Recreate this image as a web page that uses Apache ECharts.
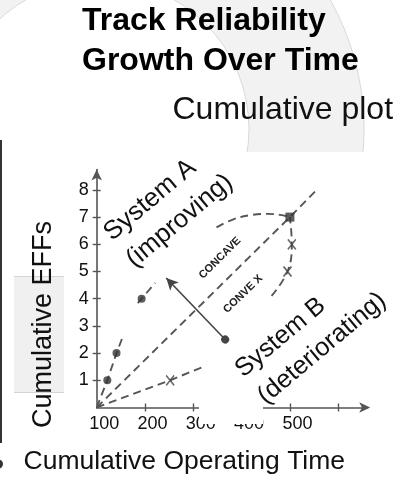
<!DOCTYPE html>
<html>
<head>
<meta charset="utf-8">
<script src="https://cdn.jsdelivr.net/npm/echarts@6/dist/echarts.min.js"></script>
<style>
  html, body { margin: 0; padding: 0; background: #fff; }
  #chart { width: 415px; height: 477px; }
</style>
</head>
<body>
<div id="chart"></div>
<script>
// Cumulative EFFs vs cumulative operating time, two system archetypes.
const xTickValues = [200, 300, 400, 500, 600];
const xLabelValues = [100, 200, 300, 400, 500];
const yTickValues = [1, 2, 3, 4, 5, 6, 7, 8];

// System A (improving): observed failures and its dashed concave trend
const sysAPoints = [[122, 1], [141, 2], [193, 4]];
const sysATrendLow = [[100, 0], [122, 1], [141, 2], [154, 2.6]];
const sysATrendMid = [[185, 3.84], [193, 4], [221, 4.58]];
const concaveArc = [[348, 6.62], [383, 6.92], [417, 7.07], [452, 7.12], [480, 7.08], [500, 7]];

// System B (deteriorating): observed failures and its dashed convex trend
const sysBPoints = [[252, 1], [495, 5], [504, 6]];
const sysBTrendLow = [[100, 0], [252, 1], [321, 1.5]];
const sysBTrendHigh = [[462, 4.1], [495, 5], [504, 6], [500, 7]];

// Point where both trends meet, and the constant-rate reference line
const meetPoint = [[500, 7]];
const constantRate = [[100, 0], [500, 7], [558, 8.05]];

// Arrow between the concave and convex regions
const arrowFrom = [366, 2.5];
const arrowTo = [244, 4.76];

const FONT = "'Liberation Sans', Arial, sans-serif";
const INK = '#555';
const DASH = [8, 5];

const chart = echarts.init(document.getElementById('chart'), null, { renderer: 'canvas' });

function dashed(data, smooth) {
  return {
    type: 'line', data: data, smooth: smooth || false, showSymbol: false,
    lineStyle: { color: INK, width: 1.9, type: DASH }, silent: true, z: 3
  };
}

const xBase = {
  type: 'value', min: 100, max: 660, interval: 100, splitLine: { show: false }
};
const yBase = {
  type: 'value', min: 0, max: 8.75, interval: 1, splitLine: { show: false }
};

chart.setOption({
  animation: false,
  backgroundColor: '#fff',
  grid: { left: 96.7, right: 47.8, top: 169.5, bottom: 69.5, containLabel: false },
  xAxis: [
    Object.assign({}, xBase, {
      position: 'bottom',
      axisLine: { show: true, symbol: ['none', 'arrow'], symbolSize: [8, 11],
        symbolOffset: [0, 3],
        lineStyle: { color: INK, width: 1.6 } },
      axisTick: { show: true, length: 4, customValues: xTickValues,
        lineStyle: { color: INK, width: 1.4 } },
      axisLabel: { show: true, customValues: xLabelValues, margin: 8,
        color: '#111', fontFamily: FONT, fontSize: 18, padding: [0, 0, 0, 15] }
    }),
    Object.assign({}, xBase, {
      position: 'bottom',
      axisLine: { show: false },
      axisTick: { show: true, inside: true, length: 4, customValues: xTickValues,
        lineStyle: { color: INK, width: 1.4 } },
      axisLabel: { show: false }
    })
  ],
  yAxis: [
    Object.assign({}, yBase, {
      position: 'left',
      axisLine: { show: true, symbol: ['none', 'arrow'], symbolSize: [8, 11],
        lineStyle: { color: INK, width: 1.6 } },
      axisTick: { show: true, length: 4, customValues: yTickValues,
        lineStyle: { color: INK, width: 1.4 } },
      axisLabel: { show: true, customValues: yTickValues, margin: 8,
        color: '#111', fontFamily: FONT, fontSize: 18 }
    }),
    Object.assign({}, yBase, {
      position: 'left',
      axisLine: { show: false },
      axisTick: { show: true, inside: true, length: 4, customValues: yTickValues,
        lineStyle: { color: INK, width: 1.4 } },
      axisLabel: { show: false }
    })
  ],
  series: [
    dashed(constantRate),
    dashed(sysATrendLow),
    dashed(sysATrendMid),
    dashed(concaveArc, 0.4),
    dashed(sysBTrendLow),
    dashed(sysBTrendHigh, 0.4),
    {
      type: 'line', data: [], silent: true, z: 4,
      markLine: {
        silent: true, animation: false,
        label: { show: false },
        lineStyle: { color: '#444', width: 1.6, type: 'solid' },
        emphasis: { disabled: true },
        data: [[
          { coord: arrowFrom, symbol: 'circle', symbolSize: 8 },
          { coord: arrowTo, symbol: 'arrow', symbolSize: [9, 12] }
        ]]
      }
    },
    {
      type: 'scatter', data: sysAPoints, symbol: 'circle', symbolSize: 8,
      itemStyle: { color: '#333' }, silent: true, z: 5
    },
    {
      type: 'scatter', data: meetPoint, symbol: 'rect', symbolSize: 9,
      itemStyle: { color: '#333' }, silent: true, z: 5
    },
    {
      type: 'scatter', data: sysBPoints, symbol: 'path://M0,0L10,12M10,0L0,12',
      symbolSize: [8, 10],
      itemStyle: { color: 'rgba(0,0,0,0)', borderColor: '#444', borderWidth: 1.6 },
      silent: true, z: 5
    }
  ],
  graphic: [
    // background ring band
    { type: 'ring', silent: true, z: -10,
      shape: { cx: 100, cy: 129, r: 264, r0: 149 },
      style: { fill: '#f2f2f2', stroke: '#d9d9d9', lineWidth: 1 } },
    { type: 'rect', silent: true, z: -9,
      shape: { x: 0, y: 152, width: 415, height: 325 }, style: { fill: '#fff' } },
    // panel behind the vertical axis title
    { type: 'rect', silent: true, z: -8,
      shape: { x: 14, y: 276, width: 50, height: 117 }, style: { fill: '#f0f0f0' } },
    { type: 'line', silent: true, z: -8,
      shape: { x1: 14, y1: 276.5, x2: 64, y2: 276.5 }, style: { stroke: '#d4d4d4', lineWidth: 1 } },
    { type: 'line', silent: true, z: -8,
      shape: { x1: 14, y1: 392.5, x2: 64, y2: 392.5 }, style: { stroke: '#d4d4d4', lineWidth: 1 } },
    // left rule and bullet
    { type: 'line', silent: true, z: 1,
      shape: { x1: 1, y1: 140, x2: 1, y2: 443 }, style: { stroke: '#333', lineWidth: 2 } },
    { type: 'circle', silent: true, z: 1,
      shape: { cx: -1.5, cy: 464, r: 4.5 }, style: { fill: '#333' } },
    // titles
    { type: 'text', silent: true, z: 10, x: 82, y: 21.5,
      style: { text: 'Track Reliability', font: 'bold 32px ' + FONT, fill: '#000',
        align: 'left', verticalAlign: 'middle' } },
    { type: 'text', silent: true, z: 10, x: 82, y: 60.8,
      style: { text: 'Growth Over Time', font: 'bold 32px ' + FONT, fill: '#000',
        align: 'left', verticalAlign: 'middle' } },
    { type: 'text', silent: true, z: 10, x: 172.5, y: 109.8,
      style: { text: 'Cumulative plot', font: '32px ' + FONT, fill: '#111',
        align: 'left', verticalAlign: 'middle' } },
    { type: 'text', silent: true, z: 10, x: 23.5, y: 461.5,
      style: { text: 'Cumulative Operating Time', font: '26.5px ' + FONT, fill: '#111',
        align: 'left', verticalAlign: 'middle' } },
    { type: 'text', silent: true, z: 10, x: 43.5, y: 324.5, rotation: Math.PI / 2,
      style: { text: 'Cumulative EFFs', font: '27px ' + FONT, fill: '#111',
        align: 'center', verticalAlign: 'middle' } },
    // blank strip over part of the time axis
    { type: 'rect', silent: true, z: 50,
      shape: { x: 199, y: 395, width: 64, height: 29 }, style: { fill: '#fff' } },
    // annotations
    { type: 'text', silent: true, z: 100, x: 118.6, y: 249.3, rotation: 40 * Math.PI / 180,
      style: { text: 'System A\n(improving)', font: '26px ' + FONT, fill: '#111',
        align: 'left', verticalAlign: 'middle', lineHeight: 35 } },
    { type: 'text', silent: true, z: 100, x: 250, y: 386, rotation: 40 * Math.PI / 180,
      style: { text: 'System B\n(deteriorating)', font: '25.5px ' + FONT, fill: '#111',
        align: 'left', verticalAlign: 'middle', lineHeight: 35 } },
    { type: 'text', silent: true, z: 100, x: 220, y: 258, rotation: 45 * Math.PI / 180,
      style: { text: 'CONCAVE', font: 'bold 11px ' + FONT, fill: '#222',
        align: 'center', verticalAlign: 'middle' } },
    { type: 'text', silent: true, z: 100, x: 243, y: 294, rotation: 44 * Math.PI / 180,
      style: { text: 'CONVE X', font: 'bold 11px ' + FONT, fill: '#222',
        align: 'center', verticalAlign: 'middle' } }
  ]
});
</script>
</body>
</html>
